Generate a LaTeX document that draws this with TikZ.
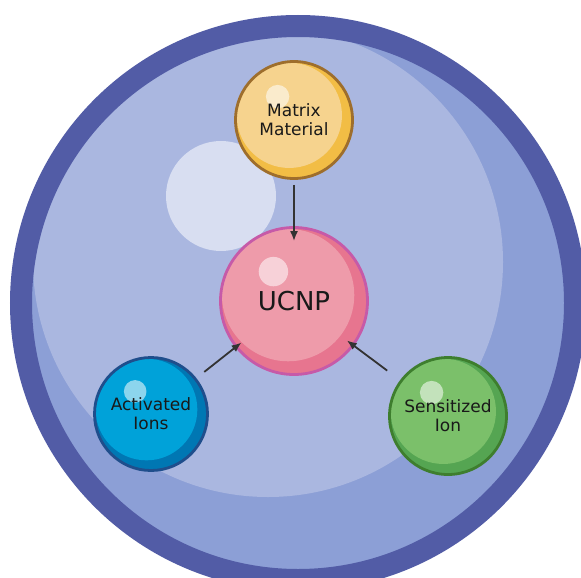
\documentclass[tikz,border=0pt]{standalone}
\usepackage{fontspec}
\setsansfont{DejaVu Sans}
\usetikzlibrary{arrows.meta}

\definecolor{ringblue}{HTML}{525CA6}
\definecolor{midblue}{HTML}{8C9FD6}
\definecolor{paleblue}{HTML}{AAB7E0}
\definecolor{glowblue}{HTML}{D8DEF1}
\definecolor{matline}{HTML}{9E6E2C}
\definecolor{matdark}{HTML}{F2BD45}
\definecolor{matlight}{HTML}{F6D38E}
\definecolor{ucline}{HTML}{C65AA8}
\definecolor{ucdark}{HTML}{E7758F}
\definecolor{uclight}{HTML}{EE9BAA}
\definecolor{actline}{HTML}{1F4E8C}
\definecolor{actdark}{HTML}{0077B3}
\definecolor{actlight}{HTML}{00A2D9}
\definecolor{senline}{HTML}{3E7E2E}
\definecolor{sendark}{HTML}{55A552}
\definecolor{senlight}{HTML}{7BC06A}

\tikzset{
  ball/.style n args={4}{circle,draw=#1,line width=2.8pt,fill=#2,minimum size=#4,inner sep=0pt,align=center,text=black!90,font=\sffamily\fontsize{17}{19}\selectfont,
    path picture={
      \fill[#3] ([xshift=-0.04*#4,yshift=0.04*#4]path picture bounding box.center) circle[radius=0.45*#4];
      \fill[white,opacity=0.55] ([xshift=-0.14*#4,yshift=0.2*#4]path picture bounding box.center) circle[radius=0.1*#4];
    }},
  link/.style={-{Latex[length=10pt,width=8pt]},line width=1.8pt,draw=black!80}
}

\begin{document}
\begin{tikzpicture}[x=1pt,y=-1pt]
\useasboundingbox (0,0) rectangle (581,578);
\clip (0,0) rectangle (581,578);
\fill[white] (0,0) rectangle (581,578);
% big cell
\fill[midblue] (298,303) circle[radius=277pt];
\fill[paleblue] (268,262) circle[radius=235pt];
\draw[ringblue,line width=22pt] (298,303) circle[radius=277pt];
\fill[glowblue] (221,196) circle[radius=55pt];
% spheres
\node[ball={matline}{matdark}{matlight}{117pt}] (M) at (294,120) {Matrix\\Material};
\node[ball={ucline}{ucdark}{uclight}{147pt},font=\sffamily\fontsize{26}{28}\selectfont] (U) at (294,301) {UCNP};
\node[ball={actline}{actdark}{actlight}{113pt}] (A) at (151,414) {Activated\\Ions};
\node[ball={senline}{sendark}{senlight}{117pt}] (S) at (448,416) {Sensitized\\Ion};
% arrows
\draw[link,shorten <=5pt,shorten >=-15pt] (M.south) -- (U.north);
\draw[link,shorten <=10pt,shorten >=-8pt] (A) -- (U);
\draw[link,shorten <=16pt,shorten >=-9pt] (S) -- (U);
\end{tikzpicture}
\end{document}
